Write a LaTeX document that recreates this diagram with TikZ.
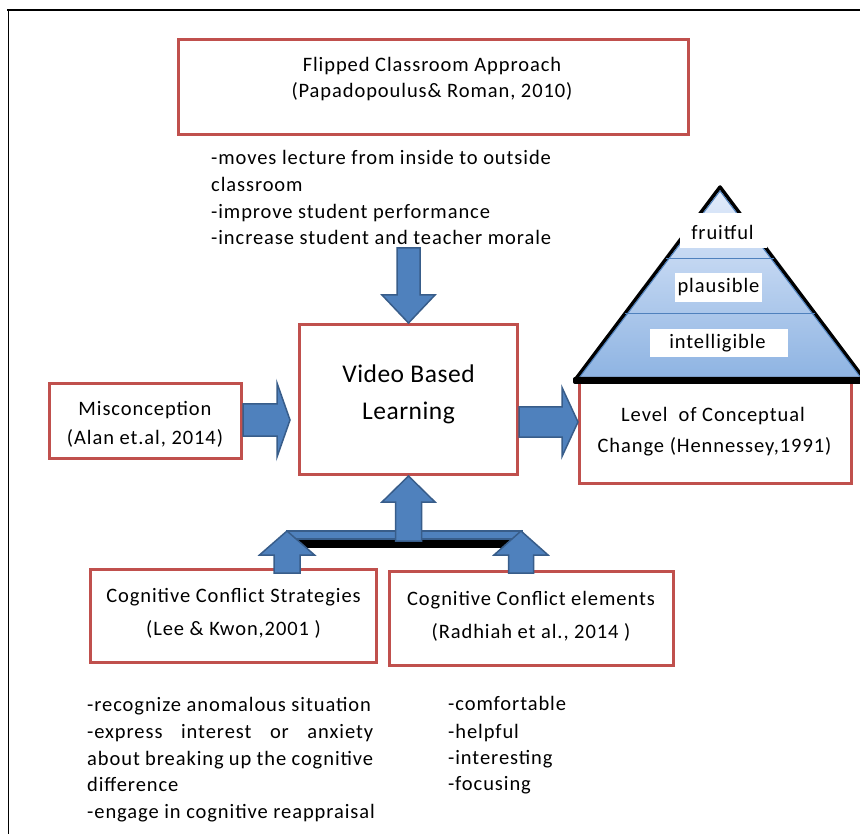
\documentclass[tikz,border=0pt]{standalone}
\usepackage{fontspec}
\setmainfont{Carlito}[LetterSpace=4.5]
\usetikzlibrary{calc}
\definecolor{boxred}{HTML}{C0504D}
\definecolor{arrowblue}{HTML}{4F81BD}
\definecolor{arrowdark}{HTML}{385D8A}
\definecolor{pyrtop}{HTML}{E3ECFB}
\definecolor{pyrbot}{HTML}{8DB3E2}
\newcommand\txtfont{\fontsize{20.5}{24}\selectfont}
\begin{document}
\begin{tikzpicture}[x=1pt,y=-1pt,
  redbox/.style={draw=boxred, line width=3pt, fill=white, inner sep=0pt},
  blk/.style={fill=arrowblue, draw=arrowdark, line width=1.5pt, line join=miter},
  txt/.style={inner sep=0pt, anchor=base, font=\txtfont},
  ltxt/.style={txt, anchor=base west},
  bigtxt/.style={inner sep=0pt, anchor=base, font=\fontsize{25.5}{30}\selectfont\addfontfeatures{LetterSpace=2}},
  lblbox/.style={fill=white, inner sep=0pt}
]
\useasboundingbox (0,0) rectangle (860,834);
\clip (0,0) rectangle (860,834);
\fill[white] (0,0) rectangle (860,834);

% outer frame
\draw[line width=2pt] (7,10) -- (860,10);
\draw[line width=1pt] (8,10) -- (8,834);

% boxes
\node[redbox, minimum width=510pt, minimum height=95pt] (flip) at (433.5,87) {};
\node[redbox, minimum width=192pt, minimum height=75pt] (misc) at (145.5,421) {};
\node[redbox, minimum width=218pt, minimum height=150pt] (vbl) at (408.5,399.5) {};
\node[redbox, minimum width=272pt, minimum height=103.5pt] (level) at (715.5,431.75) {};
\node[redbox, minimum width=286pt, minimum height=93pt] (cs) at (233.5,616) {};
\node[redbox, minimum width=284pt, minimum height=94pt] (ce) at (531.5,618.5) {};

% box texts
\node[txt] (flipA) at (432,72) {Flipped Classroom Approach};
\node[txt] (flipB) at (432,98) {(Papadopoulus\& Roman, 2010)};
\node[txt] (miscA) at (145,415) {Misconception};
\node[txt] (miscB) at (145,445) {(Alan et.al, 2014)};
\node[bigtxt] (vblA) at (408.5,383) {Video Based};
\node[bigtxt] (vblB) at (408.5,420) {Learning};
\node[txt] (levA) at (713,421) {Level\ \ of Conceptual};
\node[txt] (levB) at (714.5,453) {Change (Hennessey,1991)};
\node[txt] (csA) at (233.5,602) {Cognitive Conflict Strategies};
\node[txt] (csB) at (233.5,635) {(Lee \& Kwon,2001 )};
\node[txt] (ceA) at (531,605) {Cognitive Conflict elements};
\node[txt] (ceB) at (531,638) {(Radhiah et al., 2014 )};

% flipped bullets
\node[ltxt] (fb1) at (211,165) {-moves lecture from inside to outside};
\node[ltxt] (fb2) at (211,192) {classroom};
\node[ltxt] (fb3) at (211,218.5) {-improve student performance};
\node[ltxt] (fb4) at (211,245) {-increase student and teacher morale};

% bottom-left bullets
\node[ltxt] (sb1) at (87,711) {-recognize anomalous situation};
\node[ltxt] (sb2) at (87,738) {\makebox[286pt][s]{-express interest or anxiety}};
\node[ltxt] (sb3) at (87,765) {\makebox[286pt][s]{about breaking up the cognitive}};
\node[ltxt] (sb4) at (87,791) {difference};
\begin{scope}
\clip (0,0) rectangle (860,821);
\node[ltxt] (sb5) at (87,818) {-engage in cognitive reappraisal};
\end{scope}

% bottom-right bullets
\node[ltxt] (eb1) at (448,710) {-comfortable};
\node[ltxt] (eb2) at (448,738) {-helpful};
\node[ltxt] (eb3) at (448,764) {-interesting};
\node[ltxt] (eb4) at (448,790) {-focusing};

% block arrows
\draw[blk, shift={(vbl.north)}] (0,0) -- (-26.5,-28) -- (-11.5,-28) -- (-11.5,-75) -- (11.5,-75) -- (11.5,-28) -- (26.5,-28) -- cycle;
\coordinate (mtip) at (290,420);
\draw[blk, shift={(mtip)}] (0,0) -- (-13,-37) -- (-13,-16) -- (-47,-16) -- (-47,16) -- (-13,16) -- (-13,37) -- cycle;
\coordinate (ltip) at (578,422);
\draw[blk, shift={(ltip)}] (0,0) -- (-16,-34.5) -- (-16,-15) -- (-59,-15) -- (-59,15) -- (-16,15) -- (-16,34.5) -- cycle;

% T connector
\coordinate (barL) at (287,531);
\coordinate (barR) at (521,531);
\fill[black] (295,539) rectangle (512,548);
\draw[blk, line width=1.2pt] (barL) rectangle ($(barR)+(1,8)$);
\draw[blk, shift={(vbl.south)}] (0,0) -- (-26.5,26) -- (-13,26) -- (-13,65) -- (13,65) -- (13,26) -- (26.5,26) -- cycle;
\draw[blk, shift={(barL)}] (0,0) -- (-27.5,24) -- (-13,24) -- (-13,42) -- (13,42) -- (13,24) -- (27.5,24) -- cycle;
\draw[blk, shift={(barR)}] (0,0) -- (-27,24) -- (-12.5,24) -- (-12.5,42) -- (12.5,42) -- (12.5,24) -- (27,24) -- cycle;

% pyramid
\coordinate (apex) at (720,187);
\coordinate (pl) at (575,380);
\coordinate (pr) at (865,380);
\shade[top color=pyrtop, bottom color=pyrbot] (apex) -- (pl) -- (pr) -- cycle;
\draw[black, line width=3.5pt, line join=round] (apex) -- (pl) -- (pr) -- cycle;
\draw[arrowblue, line width=1pt] (720,191) -- (579,378) -- (861,378) -- cycle;
\draw[arrowblue, line width=1pt] ($(apex)!0.373!(pl)$) -- ($(apex)!0.373!(pr)$);
\draw[arrowblue, line width=1pt] ($(apex)!0.658!(pl)$) -- ($(apex)!0.658!(pr)$);
\fill[black, rounded corners=2pt] (573,377) rectangle (864,384);

\node[lblbox, minimum width=87pt, minimum height=35pt] (fruitbox) at (723.5,230.5) {};
\node[lblbox, minimum width=87pt, minimum height=29pt] (plausbox) at (718.5,287.5) {};
\node[lblbox, minimum width=138pt, minimum height=28pt] (intelbox) at (719,343) {};
\node[txt] (fruit) at (722.5,240) {fruitful};
\node[txt] (plaus) at (718.5,293) {plausible};
\node[txt] (intel) at (717.5,349) {intelligible};
\end{tikzpicture}
\end{document}
